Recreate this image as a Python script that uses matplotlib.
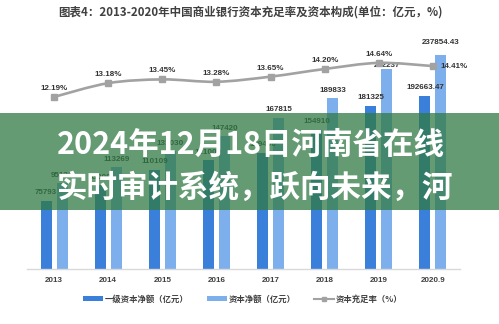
import numpy as np
import matplotlib
matplotlib.use("Agg")
import matplotlib.pyplot as plt
from matplotlib.path import Path
from matplotlib.patches import PathPatch, Patch, Rectangle
from matplotlib.lines import Line2D

# ---- data ----
years = ["2013", "2014", "2015", "2016", "2017", "2018", "2019", "2020.9"]
tier1_capital = [75793, 93000, 110109, 121000, 129400, 154910, 181325, 192663.47]
net_capital = [95131, 113269, 131030, 147420, 167815, 189833, 222237, 237854.43]
tier1_text = ["75793", "93000", "110109", "121000", "129400", "154910", "181325", "192663.47"]
net_text = ["95131", "113269", "131030", "147420", "167815", "189833", "222237", "237854.43"]
adequacy_ratio = [12.19, 13.18, 13.45, 13.28, 13.65, 14.20, 14.64, 14.41]

title = "图表4：2013-2020年中国商业银行资本充足率及资本构成(单位：亿元，%)"
legend_labels = ["一级资本净额（亿元）", "资本净额（亿元）", "资本充足率（%）"]
banner_lines = ["2024年12月18日河南省在线", "实时审计系统，跃向未来，河"]

# ---- style ----
DARK = "#3A7FDA"
LIGHT = "#7DAFEC"
GRAY = "#A2A2A2"
TXT = "#404040"
CJK = ["Noto Sans CJK SC", "DejaVu Sans"]
NUM = ["Liberation Sans", "DejaVu Sans"]

W, H = 499, 324
fig = plt.figure(figsize=(W / 100, H / 100), dpi=100)
fig.patch.set_facecolor("white")

left, right, bottom, top = 27, 460, 269, 44
ax = fig.add_axes([left / W, 1 - bottom / H, (right - left) / W, (bottom - top) / H])
ax2 = ax.twinx()

x = np.arange(len(years))
off, bw = 0.148, 0.205
ax.bar(x - off, tier1_capital, bw, color=DARK, zorder=2)
ax.bar(x + off, net_capital, bw, color=LIGHT, zorder=2)
ax.set_xlim(-0.5, 7.5)
ax.set_ylim(0, 250000)
ax2.set_ylim(-0.2, 16.0)

for a in (ax, ax2):
    for s in ("top", "left", "right"):
        a.spines[s].set_visible(False)
    a.set_yticks([])
    a.patch.set_visible(False)
ax2.spines["bottom"].set_visible(False)
ax.spines["bottom"].set_color("#D9D9D9")
ax.spines["bottom"].set_linewidth(1.0)
ax.set_xticks(x)
ax.set_xticklabels(years, fontsize=5.8, fontweight="bold", color=TXT, family=NUM)
ax.tick_params(axis="x", length=0, pad=6)

# value labels on the bars
px = 72 / 100  # points per pixel
for i in range(len(years)):
    ax.annotate(tier1_text[i], (x[i] - off, tier1_capital[i]), xytext=(0, 8 * px),
                textcoords="offset points", ha="center", va="center",
                fontsize=5.8, fontweight="bold", color="#333333", family=NUM, zorder=5)
    dy = 8
    if i == 6:
        dy = 3
    elif i == 7:
        dy = 12
    ax.annotate(net_text[i], (x[i] + off, net_capital[i]), xytext=(0, dy * px),
                textcoords="offset points", ha="center", va="center",
                fontsize=5.8, fontweight="bold", color="#333333", family=NUM, zorder=5)

# smooth capital adequacy ratio curve (Catmull-Rom through the points)
pts = np.column_stack([x, adequacy_ratio]).astype(float)
ext = np.vstack([pts[0], pts, pts[-1]])
verts = [tuple(pts[0])]
codes = [Path.MOVETO]
for i in range(len(pts) - 1):
    p0, p1, p2, p3 = ext[i], ext[i + 1], ext[i + 2], ext[i + 3]
    c1 = p1 + (p2 - p0) / 6
    c2 = p2 - (p3 - p1) / 6
    verts += [tuple(c1), tuple(c2), tuple(p2)]
    codes += [Path.CURVE4] * 3
ax2.add_patch(PathPatch(Path(verts, codes), facecolor="none", edgecolor=GRAY,
                        lw=1.9, zorder=3))
ax2.plot(x, adequacy_ratio, ls="none", marker="s", ms=4.2, color=GRAY, zorder=4)

for i, v in enumerate(adequacy_ratio):
    if i == len(adequacy_ratio) - 1:
        ax2.annotate(f"{v:.2f}%", (x[i], v), xytext=(8 * px, 0), textcoords="offset points",
                     ha="left", va="center", fontsize=5.8, fontweight="bold",
                     color="#333333", family=NUM, zorder=5)
    else:
        ax2.annotate(f"{v:.2f}%", (x[i], v), xytext=(0, 8.5 * px), textcoords="offset points",
                     ha="center", va="center", fontsize=5.8, fontweight="bold",
                     color="#333333", family=NUM, zorder=5)

# title
fig.text(250 / W, 1 - 12 / H, title, ha="center", va="center", fontsize=8.3,
         fontweight="bold", color=TXT, family=CJK)

# legend
handles = [Patch(facecolor=DARK), Patch(facecolor=LIGHT),
           Line2D([0], [0], color=GRAY, lw=1.5, marker="s", ms=3.5)]
leg = fig.legend(handles, legend_labels, loc="center", bbox_to_anchor=(243 / W, 1 - 299 / H),
                 ncol=3, frameon=False, prop={"family": CJK, "size": 6, "weight": "bold"},
                 handlelength=2.4, handleheight=0.55, handletextpad=0.2, columnspacing=2.2)
for t in leg.get_texts():
    t.set_color(TXT)

# green banner with headline text
fig.add_artist(Rectangle((0, 1 - 210 / H), 1, 97 / H, transform=fig.transFigure,
                         facecolor="#307A44", alpha=0.75, edgecolor="none", zorder=10))
fig.text(57 / W, 1 - 145 / H, banner_lines[0], ha="left", va="center", fontsize=22,
         fontweight="bold", color="white", family=CJK, zorder=11)
fig.text(57 / W, 1 - 188 / H, banner_lines[1], ha="left", va="center", fontsize=22,
         fontweight="bold", color="white", family=CJK, zorder=11)

fig.savefig("out.png", dpi=100)
